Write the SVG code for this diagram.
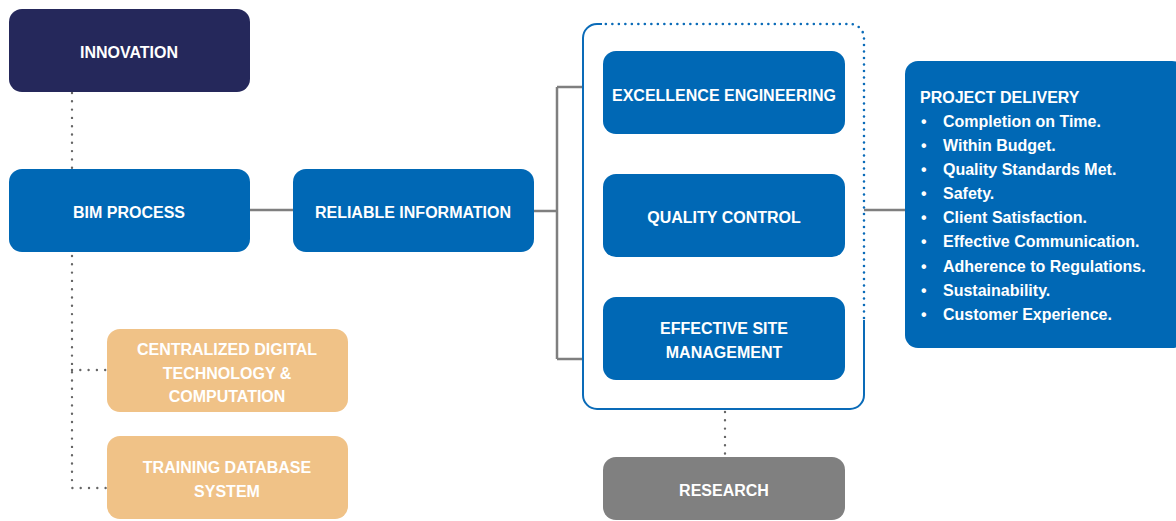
<svg xmlns="http://www.w3.org/2000/svg" width="1176" height="521" viewBox="0 0 1176 521">
<style>
.t{font-family:"Liberation Sans",Arial,sans-serif;font-weight:bold;font-size:16px;fill:#fff;text-anchor:middle}
.l{font-family:"Liberation Sans",Arial,sans-serif;font-weight:bold;font-size:16px;fill:#fff}
.blue{fill:#0068b5}
.navy{fill:#25285b}
.org{fill:#f0c287}
.gray{fill:#808080}
.solid{fill:none;stroke:#7f7f7f;stroke-width:2.5}
.dot{fill:none;stroke:#666;stroke-width:2.4;stroke-linecap:round;stroke-dasharray:0 8.3}
.cs{fill:none;stroke:#0a6bb8;stroke-width:2}
.cd{fill:none;stroke:#0a6bb8;stroke-width:2.6;stroke-linecap:round;stroke-dasharray:0 6.5}
</style>
<rect width="1176" height="521" fill="#fff"/>
<g id="connectors">
<path class="dot" d="M72 93 V168"/>
<path class="dot" d="M72 256 V488 H107"/>
<path class="dot" d="M72 370 H107"/>
<path class="solid" d="M250 210 H293"/>
<path class="solid" d="M534 211 H557 M557 87 V359 M557 87 H583 M557 359 H583"/>
<path class="solid" d="M864 210 H905"/>
<path class="dot" d="M725 412 V457"/>
</g>
<g id="container">
<path class="cs" d="M602 24 H597 A14 14 0 0 0 583 38 V395 A14 14 0 0 0 597 409 H850 A14 14 0 0 0 864 395 V320"/>
<path class="cd" d="M864 318 V38 A14 14 0 0 0 850 24 H604"/>
</g>
<g id="innovation"><rect class="navy" x="9" y="9" width="241" height="83" rx="13"/><text class="t" x="129" y="58">INNOVATION</text></g>
<g id="bim"><rect class="blue" x="9" y="169" width="241" height="83" rx="13"/><text class="t" x="129" y="218">BIM PROCESS</text></g>
<g id="reliable"><rect class="blue" x="293" y="169" width="241" height="83" rx="13"/><text class="t" x="413" y="218">RELIABLE INFORMATION</text></g>
<g id="centralized"><rect class="org" x="107" y="329" width="241" height="83" rx="13"/><text class="t" x="227" y="355">CENTRALIZED DIGITAL</text><text class="t" x="227" y="378.5">TECHNOLOGY &amp;</text><text class="t" x="227" y="402">COMPUTATION</text></g>
<g id="training"><rect class="org" x="107" y="436" width="241" height="83" rx="13"/><text class="t" x="227" y="473">TRAINING DATABASE</text><text class="t" x="227" y="497">SYSTEM</text></g>
<g id="excellence"><rect class="blue" x="603" y="51" width="242" height="83" rx="13"/><text class="t" x="724" y="101">EXCELLENCE ENGINEERING</text></g>
<g id="quality"><rect class="blue" x="603" y="174" width="242" height="83" rx="13"/><text class="t" x="724" y="223">QUALITY CONTROL</text></g>
<g id="effective"><rect class="blue" x="603" y="297" width="242" height="83" rx="13"/><text class="t" x="724" y="334">EFFECTIVE SITE</text><text class="t" x="724" y="358">MANAGEMENT</text></g>
<g id="research"><rect class="gray" x="603" y="457" width="242" height="63" rx="13"/><text class="t" x="724" y="496">RESEARCH</text></g>
<g id="delivery"><rect class="blue" x="905" y="61" width="280" height="287" rx="13"/>
<text class="l" x="920" y="103">PROJECT DELIVERY</text>
<g class="l">
<text x="921" y="127">•</text><text x="943" y="127">Completion on Time.</text>
<text x="921" y="151">•</text><text x="943" y="151">Within Budget.</text>
<text x="921" y="175">•</text><text x="943" y="175">Quality Standards Met.</text>
<text x="921" y="199">•</text><text x="943" y="199">Safety.</text>
<text x="921" y="223">•</text><text x="943" y="223">Client Satisfaction.</text>
<text x="921" y="247">•</text><text x="943" y="247">Effective Communication.</text>
<text x="921" y="272">•</text><text x="943" y="272">Adherence to Regulations.</text>
<text x="921" y="296">•</text><text x="943" y="296">Sustainability.</text>
<text x="921" y="320">•</text><text x="943" y="320">Customer Experience.</text>
</g></g>
</svg>
